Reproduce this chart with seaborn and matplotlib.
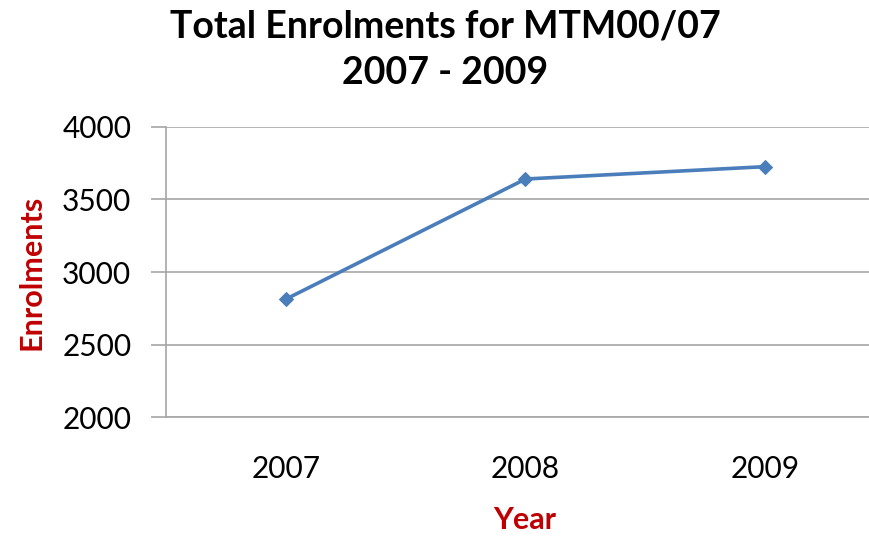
import matplotlib
matplotlib.use("Agg")
import matplotlib.pyplot as plt
import seaborn as sns
import pandas as pd

years = ["2007", "2008", "2009"]
enrolments = [2813, 3640, 3725]
yticks = [2000, 2500, 3000, 3500, 4000]

sns.set_style("white")
plt.rcParams['font.family'] = ['Lato', 'DejaVu Sans']

df = pd.DataFrame({"Year": years, "Enrolments": enrolments})

W, H = 870, 536
fig = plt.figure(figsize=(W / 100, H / 100), dpi=100)
left, right = 166, 870
top, bottom = 126.7, 417.3
ax = fig.add_axes([left / W, 1 - bottom / H, (right - left) / W, (bottom - top) / H])

sns.lineplot(data=df, x="Year", y="Enrolments", ax=ax, color="#4a7ebb",
             linewidth=2.6, marker="D", markersize=7, markeredgecolor="#4a7ebb")

ax.set_xlim(-0.5, (870 - 285) / 240)
ax.set_ylim(2000, 4000)
ax.set_yticks(yticks)
ax.set_yticklabels([str(v) for v in yticks])
ax.yaxis.grid(True, color="#a6a6a6", linewidth=1.2)
ax.xaxis.grid(False)
for s in ["top", "right"]:
    ax.spines[s].set_visible(False)
for s in ["left", "bottom"]:
    ax.spines[s].set_color("#a6a6a6")
    ax.spines[s].set_linewidth(1.2)
ax.tick_params(axis="y", which="both", left=True, length=11, width=1.2, color="#a6a6a6",
               labelsize=21.5, pad=14, labelcolor="black")
ax.tick_params(axis="x", bottom=False, labelsize=21.5, pad=24, labelcolor="black")
ax.set_xlabel("")
ax.set_ylabel("")

fig.text(445 / W, 1 - 27 / H, "Total Enrolments for MTM00/07", ha="center", va="center",
         fontsize=27, fontweight="bold", color="black")
fig.text(445 / W, 1 - 73 / H, "2007 - 2009", ha="center", va="center",
         fontsize=27, fontweight="bold", color="black")
fig.text(32 / W, 1 - 272 / H, "Enrolments", rotation=90, ha="center", va="center",
         fontsize=22, fontweight="bold", color="#c00000")
fig.text(525 / W, 1 - 520 / H, "Year", ha="center", va="center",
         fontsize=22, fontweight="bold", color="#c00000")

fig.savefig("out.png", dpi=100, facecolor="white")
